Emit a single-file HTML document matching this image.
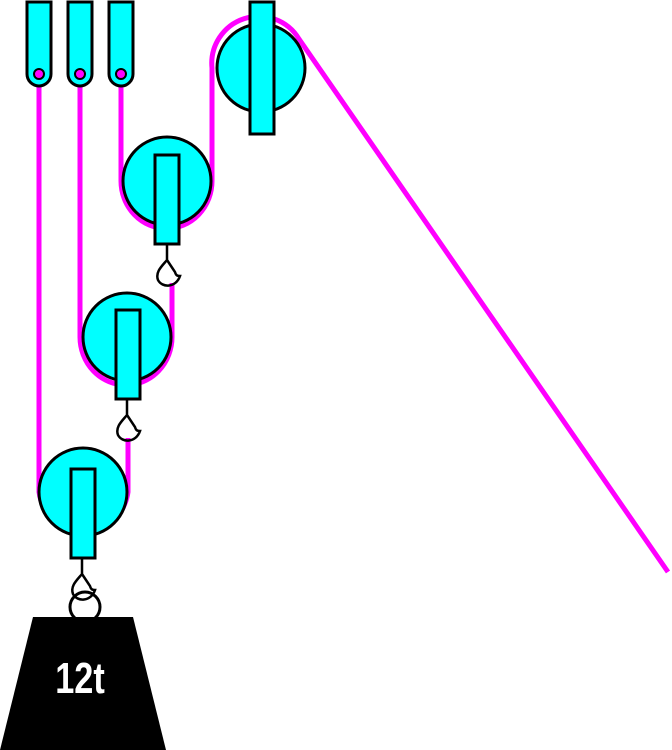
<!DOCTYPE html>
<html><head><style>html,body{margin:0;padding:0;background:#fff}svg{display:block}</style></head><body>
<svg width="672" height="750" viewBox="0 0 672 750" xmlns="http://www.w3.org/2000/svg">
<g fill="none" stroke="#ff00ff" stroke-width="5" stroke-linecap="butt">
<path d="M39,86 V492 A45,47 0 0 0 128,492 V438"/>
<path d="M80,86 V337 A45,47 0 0 0 172,337 V283"/>
<path d="M121,86 V181 A45,47 0 0 0 212,181 V68 A47,47 0 0 1 299,39 L668,572"/>
</g>
<g stroke="#000" stroke-width="3" fill="#00ffff">
<path d="M27,2 H51 V74 A12,12 0 0 1 27,74 Z"/>
<path d="M68,2 H92 V74 A12,12 0 0 1 68,74 Z"/>
<path d="M109,2 H133 V74 A12,12 0 0 1 109,74 Z"/>
<circle cx="261" cy="68" r="44"/>
<rect x="250" y="2" width="24" height="132"/>
<circle cx="167" cy="181" r="44"/>
<rect x="155" y="155" width="24" height="89"/>
<circle cx="127" cy="337" r="44"/>
<rect x="116" y="310" width="24" height="89"/>
<circle cx="83" cy="492" r="44"/>
<rect x="71" y="469" width="24" height="89"/>
</g>
<g fill="#ff00ff" stroke="#000" stroke-width="2">
<circle cx="39" cy="74" r="5"/><circle cx="80" cy="74" r="5"/><circle cx="121" cy="74" r="5"/>
</g>
<g fill="none" stroke="#000" stroke-width="2.5">
<path d="M167,244 V260 C162,266 155,272 158,280 C162,288 176,288 180,276 C178,276 176,276 175,272 L167,260"/>
<path d="M127,399 V415 C122,421 115,427 118,435 C122,443 136,443 140,431 C138,431 136,431 135,427 L127,415"/>
<path d="M82,558 V574 C77,580 70,586 73,594 C77,602 91,602 95,590 C93,590 91,590 90,586 L82,574"/>
<circle cx="85" cy="607" r="15" stroke-width="3"/>
</g>
<polygon points="33,617 133,617 166,750 0,750" fill="#000"/>
<text x="80" y="693" text-anchor="middle" fill="#fff" font-family="Liberation Sans, sans-serif" font-weight="bold" font-size="44" transform="translate(80,0) scale(0.78,1) translate(-80,0)">12t</text>
</svg>
</body></html>
